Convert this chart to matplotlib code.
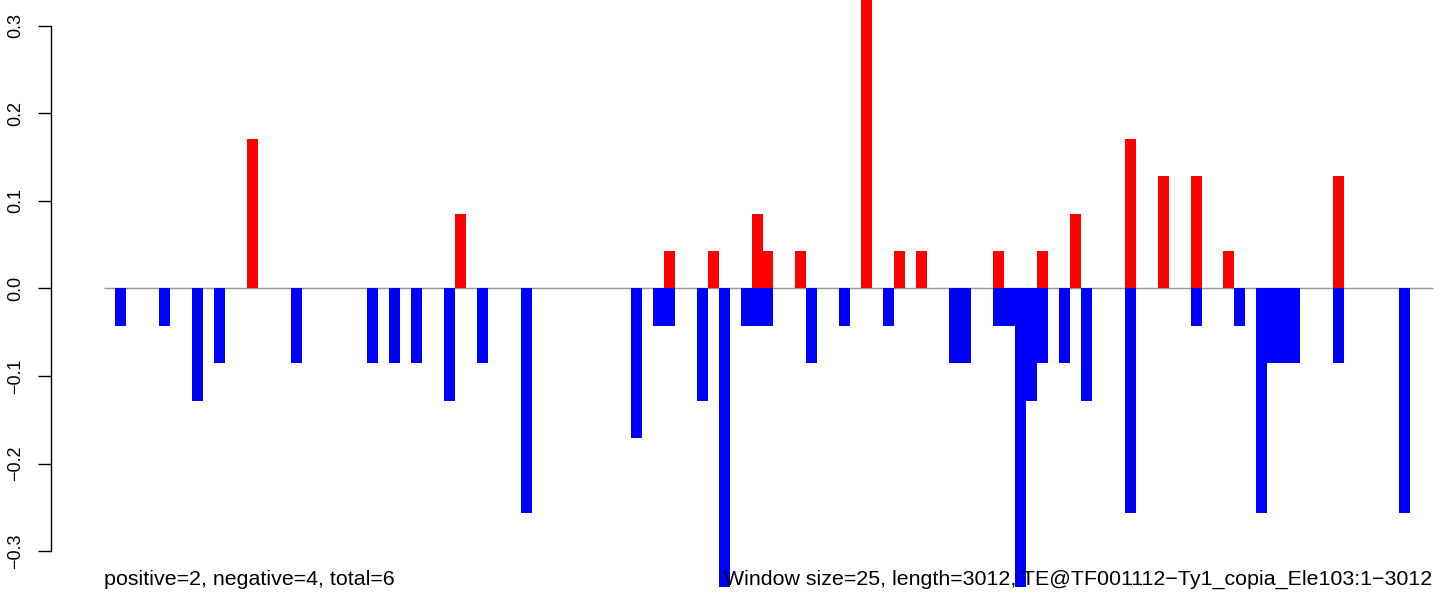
import matplotlib
matplotlib.use("Agg")
import matplotlib.pyplot as plt

plt.rcParams['font.family'] = ['Liberation Sans', 'DejaVu Sans']

# ---- data ----
window_size = 25
seq_length = 3012
# window index (bar k starts at (k+1)*window_size)
win_idx = [0, 4, 7, 9, 12, 16, 23, 25, 27, 30, 31, 33, 37, 47, 49, 50, 53, 54, 55, 57,
           58, 59, 62, 63, 66, 68, 70, 71, 73, 76, 77, 80, 81, 82, 83, 84, 86, 87, 88, 92,
           95, 98, 101, 102, 104, 105, 106, 107, 111, 117]
pos_vals = [0, 0, 0, 0, 0.1708, 0, 0, 0, 0, 0, 0.0854, 0, 0, 0, 0, 0.0427, 0, 0.0427, 0, 0,
            0.0854, 0.0427, 0.0427, 0, 0, 0.3416, 0, 0.0427, 0.0427, 0, 0, 0.0427, 0, 0, 0, 0.0427, 0, 0.0854, 0, 0.1708,
            0.1281, 0.1281, 0.0427, 0, 0, 0, 0, 0, 0.1281, 0]
neg_vals = [-0.0427, -0.0427, -0.1281, -0.0854, 0, -0.0854, -0.0854, -0.0854, -0.0854, -0.1281, 0, -0.0854, -0.2562, -0.1708, -0.0427, -0.0427, -0.1281, 0, -0.3416, -0.0427,
            -0.0427, -0.0427, 0, -0.0854, -0.0427, 0, -0.0427, 0, 0, -0.0854, -0.0854, -0.0427, -0.0427, -0.3416, -0.1281, -0.0854, -0.0854, 0, -0.1281, -0.2562,
            0, -0.0427, 0, -0.0427, -0.2562, -0.0854, -0.0854, -0.0854, -0.0854, -0.2562]
y_ticks = [-0.3, -0.2, -0.1, 0.0, 0.1, 0.2, 0.3]
y_tick_labels = ["\u22120.3", "\u22120.2", "\u22120.1", "0.0", "0.1", "0.2", "0.3"]
left_note = "positive=2, negative=4, total=6"
right_note = "Window size=25, length=3012, TE@TF001112\u2212Ty1_copia_Ele103:1\u22123012"

# ---- layout ----
W, H = 1444, 594
fig = plt.figure(figsize=(W / 100, H / 100), dpi=100)
ax = fig.add_axes([0, 0, 1, 1])

px_per_bp = 10.975 / window_size
x0_px = 104.0          # pixel of position 0
y0_px = 288.5          # pixel of value 0
px_per_unit = 875.0
ax.set_xlim(-x0_px / px_per_bp, (W - x0_px) / px_per_bp)
ax.set_ylim((y0_px - H) / px_per_unit, y0_px / px_per_unit)

lefts = [(k + 1) * window_size for k in win_idx]
ax.hlines(0, 0, 121.1 * window_size, color='#999999', lw=1.0, zorder=1)
ax.bar(lefts, pos_vals, width=window_size, align='edge', color='#ff0000', lw=0, zorder=2)
ax.bar(lefts, neg_vals, width=window_size, align='edge', color='#0000ff', lw=0, zorder=2)

for s in ['top', 'right', 'bottom']:
    ax.spines[s].set_visible(False)
ax.spines['left'].set_position(('axes', 50.7 / W))
ax.spines['left'].set_bounds(-0.3, 0.3)
ax.spines['left'].set_linewidth(1.0)
ax.set_xticks([])
ax.set_yticks(y_ticks)
ax.set_yticklabels(y_tick_labels, rotation=90, va='center', fontsize=13)
ax.tick_params(axis='y', length=9.4, width=1.0, pad=10)
ax.patch.set_visible(False)

fig.text(103.5 / W, (H - 585) / H, left_note, fontsize=15.4, ha='left', va='baseline')
fig.text(1432 / W, (H - 585) / H, right_note, fontsize=15.4, ha='right', va='baseline')

fig.savefig("out.png", dpi=100, facecolor='white')
